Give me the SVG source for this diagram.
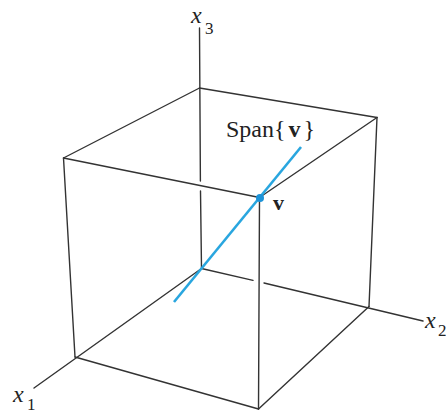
<svg xmlns="http://www.w3.org/2000/svg" width="446" height="414" viewBox="0 0 446 414">
<style>
.e{stroke:#333;stroke-width:1.4;fill:none;stroke-linecap:round}
.t{font-family:"Liberation Serif","Times New Roman",serif;fill:#222}
.ax{font-style:italic;font-size:24px}
.sub{font-size:17px}
</style>
<rect width="446" height="414" fill="#fff"/>
<g id="cube">
<line class="e" x1="199.5" y1="88" x2="63.5" y2="158"/>
<line class="e" x1="199.5" y1="88" x2="377" y2="117.5"/>
<line class="e" x1="63.5" y1="158" x2="259.5" y2="197.5"/>
<line class="e" x1="377" y1="117.5" x2="259.5" y2="197.5"/>
<line class="e" x1="63.5" y1="158" x2="75" y2="357"/>
<line class="e" x1="377" y1="117.5" x2="369" y2="306.5"/>
<line class="e" x1="259.5" y1="197.5" x2="258.5" y2="409"/>
<line class="e" x1="75" y1="357" x2="258.5" y2="409"/>
<line class="e" x1="369" y1="306.5" x2="258.5" y2="409"/>
</g>
<g id="axes">
<line class="e" x1="199.5" y1="28" x2="200.4" y2="181"/>
<line class="e" x1="200.5" y1="191" x2="201.5" y2="268.5"/>
<line class="e" x1="201.5" y1="268.5" x2="34" y2="388"/>
<line class="e" x1="201.5" y1="268.5" x2="253" y2="280.4"/>
<line class="e" x1="264" y1="283" x2="423" y2="321"/>
</g>
<g id="span">
<line x1="174" y1="302" x2="301" y2="147" stroke="#29a6df" stroke-width="2.6" stroke-linecap="butt"/>
<circle cx="260" cy="198" r="4" fill="#1c93d8"/>
</g>
<g id="labels">
<text class="t ax" x="191" y="23">x</text>
<text class="t sub" x="205" y="34">3</text>
<text class="t ax" x="13" y="402">x</text>
<text class="t sub" x="27" y="410">1</text>
<text class="t ax" x="425" y="328">x</text>
<text class="t sub" x="438" y="336">2</text>
<text class="t" x="226" y="137" font-size="24">Span{<tspan font-weight="bold" dx="3">v</tspan><tspan dx="3">}</tspan></text>
<text class="t" x="273" y="210" font-size="22" font-weight="bold">v</text>
</g>
</svg>
